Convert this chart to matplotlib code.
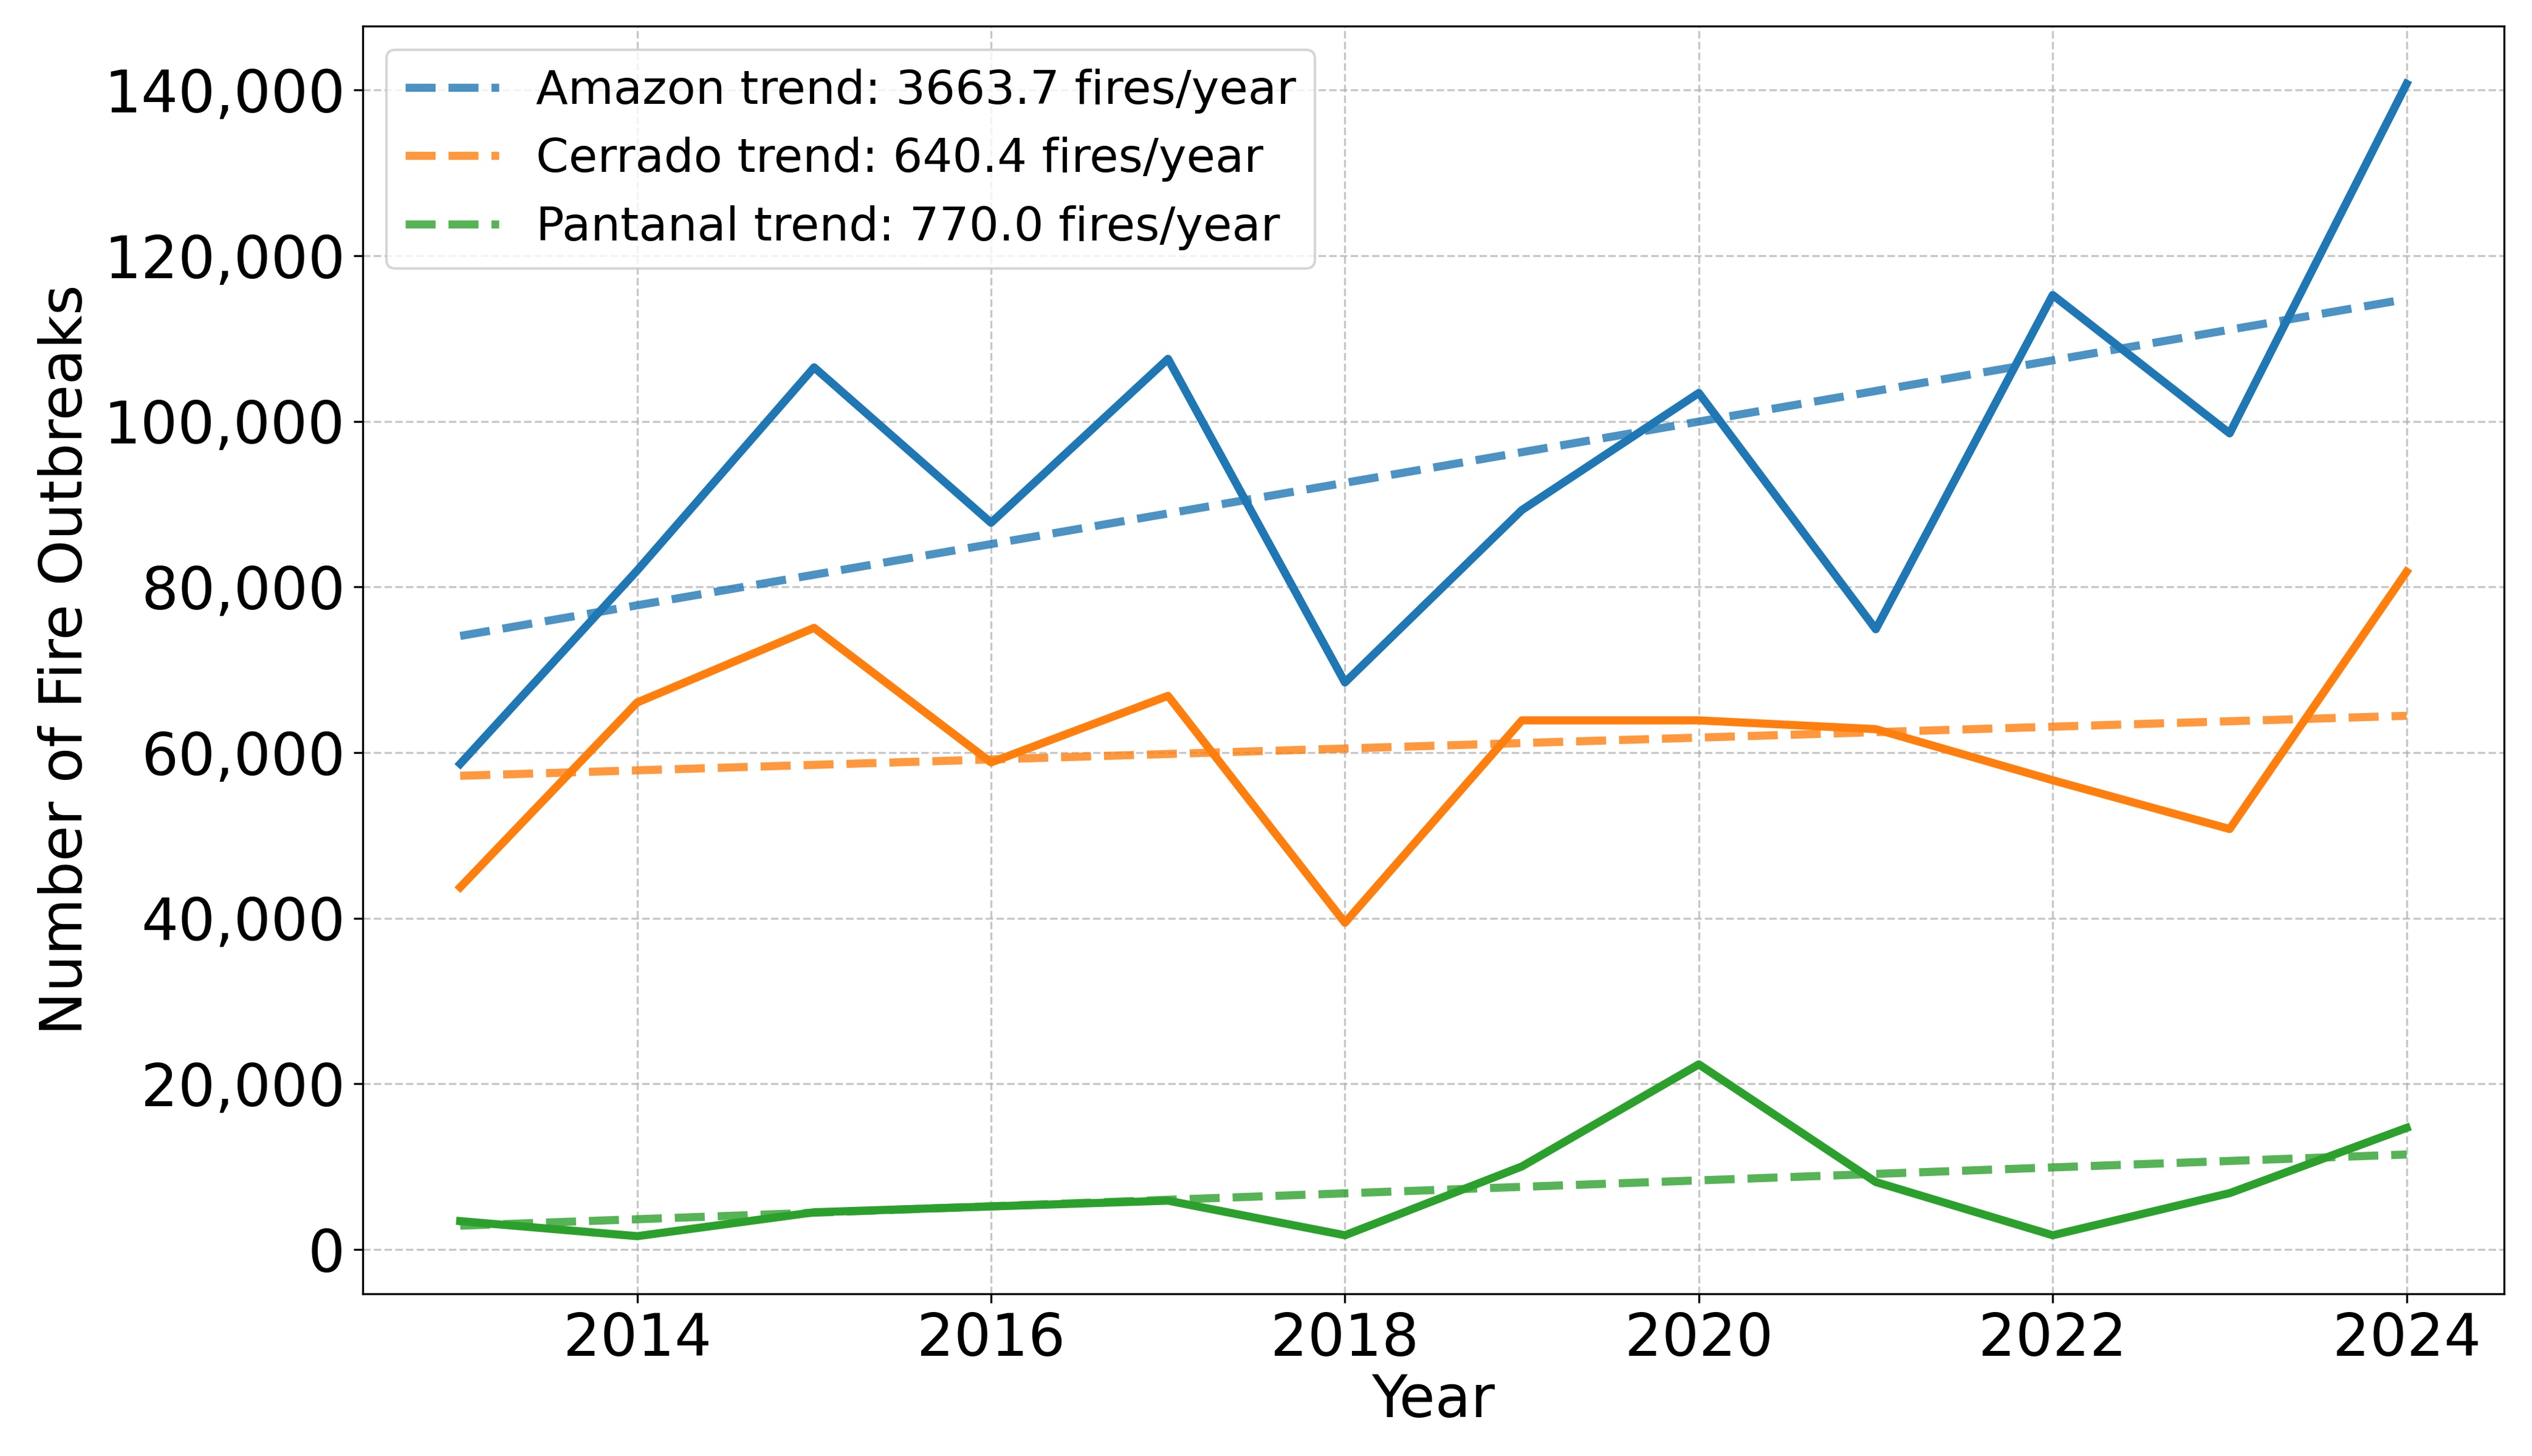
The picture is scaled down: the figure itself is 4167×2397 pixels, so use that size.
import matplotlib.pyplot as plt
import numpy as np
from matplotlib.ticker import FuncFormatter

years = np.arange(2013, 2025)

amazon = [58650, 82000, 106530, 87760, 107560, 68480, 89300, 103440, 74900, 115270, 98560, 140770]
cerrado = [43750, 66060, 75070, 58820, 66860, 39460, 63900, 63900, 62840, 56670, 50780, 81850]
pantanal = [3430, 1610, 4500, 5200, 5900, 1720, 10030, 22360, 8150, 1720, 6810, 14690]

biomes = ['Amazon', 'Cerrado', 'Pantanal']
slopes_txt = ['3663.7', '640.4', '770.0']
colors = ['#1f77b4', '#ff7f0e', '#2ca02c']

fig, ax = plt.subplots(figsize=(13.893, 7.99), dpi=300)
fig.subplots_adjust(left=0.1433, right=0.9887, top=0.982, bottom=0.1114)

for name, vals, s, c in zip(biomes, [amazon, cerrado, pantanal], slopes_txt, colors):
    ax.plot(years, vals, color=c, linewidth=3.2)
    p = np.polyfit(years, vals, 1)
    ax.plot(years, np.polyval(p, years), '--', color=c, linewidth=3.2, alpha=0.8,
            label=f'{name} trend: {s} fires/year')

ax.set_xlabel('Year', fontsize=23, labelpad=2)
ax.set_ylabel('Number of Fire Outbreaks', fontsize=23)
ax.tick_params(labelsize=23)
ax.yaxis.set_major_formatter(FuncFormatter(lambda v, pos: f'{int(v):,}'))
ax.grid(True, linestyle='--', alpha=0.7)
ax.legend(loc='upper left', fontsize=18.5)

plt.savefig('out.png', dpi=300)
